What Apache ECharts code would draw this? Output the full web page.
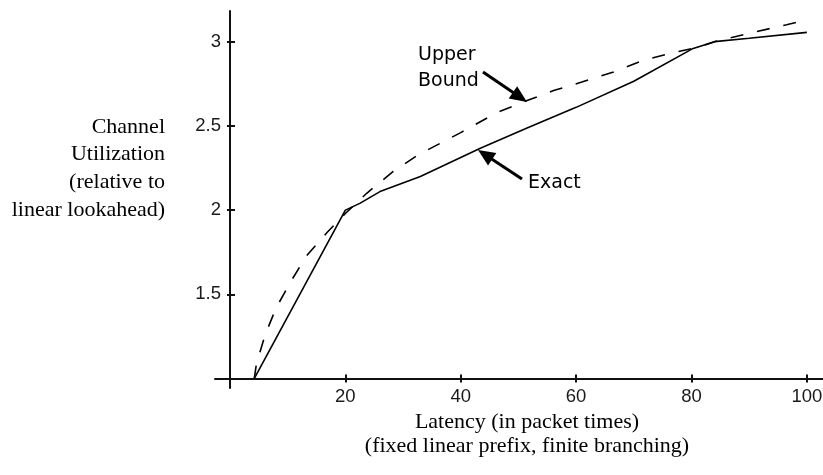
<!DOCTYPE html>
<html>
<head>
<meta charset="utf-8">
<script src="https://cdn.jsdelivr.net/npm/echarts@6/dist/echarts.min.js"></script>
<style>
html,body{margin:0;padding:0;background:#fff;}
#chart{width:823px;height:475px;}
</style>
</head>
<body>
<div id="chart"></div>
<script>
// ---- data ----
const exactLatency = [4.2, 20, 22.5, 26, 33, 43.4, 51.5, 60, 70, 80.3, 84, 90, 100];
const exactUtil    = [1.0, 2.0, 2.04, 2.11, 2.2, 2.367, 2.487, 2.61, 2.765, 2.96, 3.0, 3.02, 3.055];
const upperLatency = [4.2, 4.6, 6.1, 8, 10.7, 13.3, 16.9, 20, 23.7, 28.3, 32.7, 40, 46.3, 51.5, 56.1, 61, 66.5, 71.7, 76.3, 81.5, 84, 91.3, 96.5, 100];
const upperUtil    = [1.0, 1.09, 1.26, 1.42, 1.585, 1.73, 1.87, 1.98, 2.10, 2.23, 2.33, 2.46, 2.58, 2.65, 2.71, 2.76, 2.82, 2.89, 2.93, 2.97, 3.0, 3.06, 3.10, 3.13];
const xTicks = [20, 40, 60, 80, 100];
const yTicks = [1.5, 2, 2.5, 3];
const yTitleLines = ['Channel', 'Utilization', '(relative to', 'linear lookahead)'];
const xTitleLines = ['Latency (in packet times)', '(fixed linear prefix, finite branching)'];

const zip = (a, b) => a.map((v, i) => [v, b[i]]);

const XMIN = -2.6, XMAX = 102.8, YMIN = 0.944, YMAX = 3.182;
const tickFont = {fontFamily: 'Liberation Sans', fontSize: 18.5, color: '#1a1a1a'};

function arrow(tail, tip, head, half) {
  const dx = tip[0] - tail[0], dy = tip[1] - tail[1];
  const L = Math.sqrt(dx*dx + dy*dy), ux = dx / L, uy = dy / L;
  const bx = tip[0] - ux*head, by = tip[1] - uy*head;
  return [
    {type: 'line', shape: {x1: tail[0], y1: tail[1], x2: bx + ux*2, y2: by + uy*2},
     style: {stroke: '#000', lineWidth: 3}},
    {type: 'polygon', shape: {points: [[tip[0], tip[1]], [bx - uy*half, by + ux*half], [bx + uy*half, by - ux*half]]},
     style: {fill: '#000'}}
  ];
}

const serif = 'Liberation Serif';
const graphics = [];
yTitleLines.forEach((t, i) => graphics.push({type: 'text', x: 165, y: 127 + i*27.7,
  style: {text: t, font: '22px "' + serif + '"', fill: '#000', textAlign: 'right', textVerticalAlign: 'middle'}}));
xTitleLines.forEach((t, i) => graphics.push({type: 'text', x: 527, y: 422 + i*24.5,
  style: {text: t, font: '22px "' + serif + '"', fill: '#000', textAlign: 'center', textVerticalAlign: 'middle'}}));
graphics.push({type: 'text', x: 418, y: 55, style: {text: 'Upper', font: '19px "DejaVu Sans"', fill: '#000', textAlign: 'left', textVerticalAlign: 'middle'}});
graphics.push({type: 'text', x: 418, y: 81, style: {text: 'Bound', font: '19px "DejaVu Sans"', fill: '#000', textAlign: 'left', textVerticalAlign: 'middle'}});
graphics.push({type: 'text', x: 528, y: 183, style: {text: 'Exact', font: '19px "DejaVu Sans"', fill: '#000', textAlign: 'left', textVerticalAlign: 'middle'}});
graphics.push(...arrow([483, 72], [527, 102], 17, 7.5));
graphics.push(...arrow([522, 179], [478, 150], 17, 7.5));

const axisColor = '#111';
function xAx(main) {
  return {
    type: 'value', min: XMIN, max: XMAX, position: 'bottom', offset: -9.5,
    axisLine: {show: main, onZero: false, lineStyle: {color: axisColor, width: 2}},
    axisTick: {show: true, inside: !main, length: 4, customValues: xTicks, lineStyle: {color: axisColor, width: 2}},
    axisLabel: {show: main, customValues: xTicks, margin: 9, ...tickFont},
    splitLine: {show: false}
  };
}
function yAx(main) {
  return {
    type: 'value', min: YMIN, max: YMAX, position: 'left', offset: -15,
    axisLine: {show: main, onZero: false, lineStyle: {color: axisColor, width: 2}},
    axisTick: {show: true, inside: !main, length: main ? 3 : 5, customValues: yTicks, lineStyle: {color: axisColor, width: 2}},
    axisLabel: {show: main, customValues: yTicks, margin: 9, ...tickFont},
    splitLine: {show: false}
  };
}

const chart = echarts.init(document.getElementById('chart'), null, {renderer: 'canvas'});
chart.setOption({
  animation: false,
  backgroundColor: '#fff',
  grid: {left: 215, right: 0, top: 11, bottom: 87, containLabel: false, outerBoundsMode: 'none'},
  xAxis: [xAx(true), xAx(false)],
  yAxis: [yAx(true), yAx(false)],
  series: [
    {type: 'line', name: 'Exact', data: zip(exactLatency, exactUtil), showSymbol: false, symbol: 'none',
     lineStyle: {color: '#000', width: 1.6}, z: 3},
    {type: 'line', name: 'Upper Bound', data: zip(upperLatency, upperUtil), showSymbol: false, symbol: 'none',
     lineStyle: {color: '#000', width: 1.6, type: [13, 14]}, z: 3}
  ],
  graphic: graphics
});
</script>
</body>
</html>
